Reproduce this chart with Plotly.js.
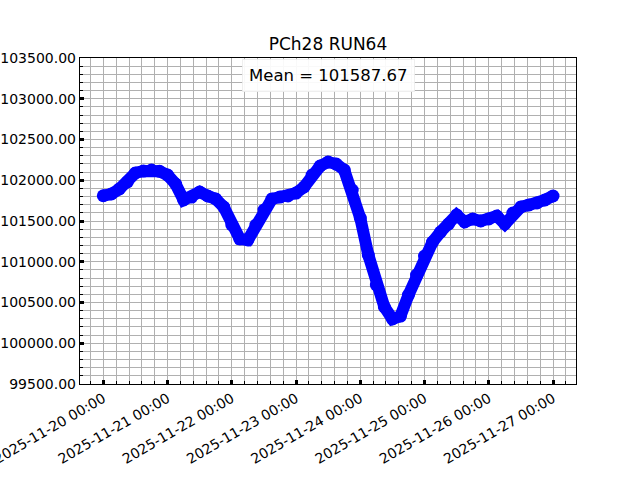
<!DOCTYPE html>
<html>
<head>
<meta charset="utf-8">
<script src="https://cdn.plot.ly/plotly-3.0.1.min.js"></script>
<style>html,body{margin:0;padding:0;background:#fff;}#chart{width:640px;height:480px;}</style>
</head>
<body>
<div id="chart"></div>
<script>
const startTime = '2025-11-20T00:00:00';
const stepHours = 3;
const pressure = [
  101810, 101831, 101893, 101979, 102089, 102113, 102126, 102110,
  102064, 101954, 101758, 101794, 101856, 101807, 101770, 101672,
  101451, 101279, 101267, 101451, 101635, 101770, 101794, 101807,
  101843, 101917, 102064, 102175, 102224, 102199, 102126, 101880,
  101537, 101083, 100715, 100445, 100298, 100334, 100592, 100837,
  101070, 101242, 101365, 101463, 101574, 101488, 101525, 101500,
  101525, 101561, 101463, 101598, 101672, 101697, 101721, 101758,
  101807
];
const titleText = 'PCh28 RUN64';
const meanText = 'Mean = 101587.67';

const t0 = new Date(startTime + 'Z').getTime();
const times = pressure.map((_, i) => {
  const d = new Date(t0 + i * stepHours * 3600000);
  return d.toISOString().slice(0, 19).replace('T', ' ');
});

const font = {family: 'DejaVu Sans, sans-serif', color: '#000'};

const trace = {
  x: times, y: pressure, type: 'scatter', mode: 'lines+markers',
  line: {color: '#0000ff', width: 12, shape: 'linear'},
  marker: {color: '#0000ff', size: 13},
  hoverinfo: 'skip'
};

const layout = {
  width: 640, height: 480,
  margin: {l: 80, r: 64, t: 58, b: 96},
  paper_bgcolor: '#fff', plot_bgcolor: '#fff',
  showlegend: false,
  font: Object.assign({size: 14}, font),
  title: {text: titleText, font: Object.assign({size: 17}, font), x: 0.5, xref: 'paper', xanchor: 'center', y: 1 - 44/480, yref: 'container', yanchor: 'middle'},
  xaxis: {
    type: 'date',
    range: ['2025-11-19 15:17:40', '2025-11-27 08:35:00'],
    tickmode: 'linear', tick0: '2025-11-20 00:00', dtick: 86400000,
    tickformat: '%Y-%m-%d %H:%M', tickangle: -30,
    ticklabeloverflow: 'allow',
    tickfont: Object.assign({size: 14}, font),
    ticks: 'inside', ticklen: 4, tickwidth: 3, tickcolor: '#000',
    showgrid: true, gridcolor: '#b0b0b0', gridwidth: 1,
    minor: {dtick: 17280000, tick0: '2025-11-20 00:00', ticks: 'inside', ticklen: 3, tickwidth: 1, tickcolor: '#000', showgrid: true, gridcolor: '#b0b0b0', gridwidth: 1},
    showline: true, linecolor: '#000', linewidth: 1.2, mirror: true,
    zeroline: false, automargin: false
  },
  yaxis: {
    range: [99500, 103500],
    tickmode: 'linear', tick0: 99500, dtick: 500, tickformat: '.2f',
    tickfont: Object.assign({size: 14}, font),
    ticks: 'inside', ticklen: 4, tickwidth: 3, tickcolor: '#000',
    showgrid: true, gridcolor: '#b0b0b0', gridwidth: 1,
    minor: {dtick: 100, tick0: 99500, ticks: 'inside', ticklen: 3, tickwidth: 1, tickcolor: '#000', showgrid: true, gridcolor: '#b0b0b0', gridwidth: 1},
    showline: true, linecolor: '#000', linewidth: 1.2, mirror: true,
    zeroline: false, automargin: false
  },
  annotations: [{
    text: meanText, xref: 'paper', yref: 'paper', x: 0.5, y: (384 - 75) / 326,
    xanchor: 'center', yanchor: 'middle', showarrow: false,
    font: Object.assign({size: 16.5}, font),
    bgcolor: 'rgba(255,255,255,0.92)', bordercolor: 'rgba(235,235,235,0.8)', borderwidth: 1, borderpad: 6
  }]
};

Plotly.newPlot('chart', [trace], layout, {staticPlot: true, displayModeBar: false});
</script>
</body>
</html>
